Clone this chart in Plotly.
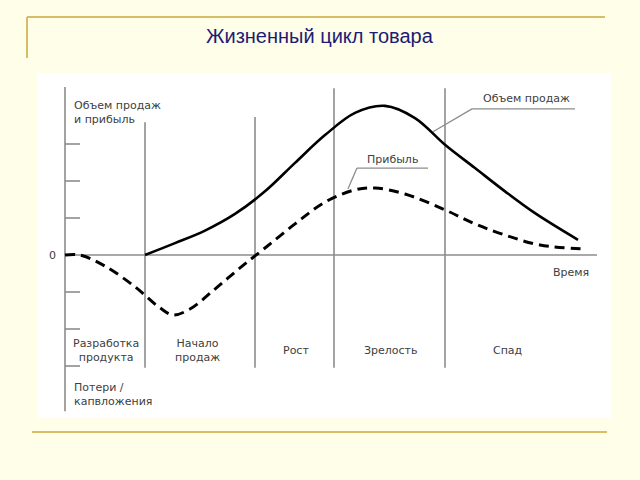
import plotly.graph_objects as go

# ---- data (time units, value units) ----
SALES_T = [8, 11, 14, 17, 20, 23, 26, 29, 32, 35, 38, 41, 44, 47, 51.3]
SALES_V = [0, 3.2, 6.6, 11.1, 17.2, 24.9, 32.4, 38.4, 40.3, 37.0, 29.8, 23.5, 17.2, 11.3, 4.1]

PROFIT_T = [0, 1.5, 4, 7, 9.5, 10.8, 12.5, 15, 17.5, 20, 23, 26, 29, 31, 34, 38, 41, 44, 47.5, 52]
PROFIT_V = [0, 0, -3.0, -8.6, -14.3, -16.2, -14.6, -9.2, -3.5, 1.9, 8.4, 14.3, 17.6, 18.1, 16.5, 12.2, 8.4, 5.4, 2.7, 1.6]

PHASE_BOUNDS = [8, 19, 26.9, 38]
PHASE_TOPS = [35.9, 37.3, 45.1, 45.1]
PHASE_BOTTOM = -30.5
PHASE_LABELS = ["Разработка<br>продукта", "Начало<br>продаж", "Рост", "Зрелость", "Спад"]
PHASE_CENTERS = [4.1, 13.2, 23.1, 32.6, 44.3]
TICKS_V = [30, 20, 10, -10, -20, -30]
TIME_END = 53.2

TITLE = "Жизненный цикл товара"
Y_LABEL = "Объем продаж<br>и прибыль"
LOSS_LABEL = "Потери /<br>капвложения"
X_LABEL = "Время"
SALES_LABEL = "Объем продаж"
PROFIT_LABEL = "Прибыль"

GRAY = "#8c8c8c"
TXT = "#404040"
GOLD = "#D8BD66"
FONT = "DejaVu Sans"

fig = go.Figure()

fig.add_trace(go.Scatter(x=SALES_T, y=SALES_V, mode="lines",
                         line=dict(color="black", width=2.6, shape="spline", smoothing=1.0),
                         hoverinfo="skip", showlegend=False))
fig.add_trace(go.Scatter(x=PROFIT_T, y=PROFIT_V, mode="lines",
                         line=dict(color="black", width=3, dash="10px,6px", shape="spline", smoothing=1.0),
                         hoverinfo="skip", showlegend=False))

shapes = []
# page decoration
shapes.append(dict(type="rect", xref="paper", yref="paper", x0=37/640, x1=611/640,
                   y0=1-418/480, y1=1-73/480, fillcolor="white", line=dict(width=0), layer="below"))
shapes.append(dict(type="line", xref="paper", yref="paper", x0=27/640, x1=605/640,
                   y0=1-17/480, y1=1-17/480, line=dict(color=GOLD, width=2)))
shapes.append(dict(type="line", xref="paper", yref="paper", x0=27/640, x1=27/640,
                   y0=1-17/480, y1=1-58/480, line=dict(color=GOLD, width=2)))
shapes.append(dict(type="line", xref="paper", yref="paper", x0=32/640, x1=607/640,
                   y0=1-432/480, y1=1-432/480, line=dict(color=GOLD, width=2)))
# axes
shapes.append(dict(type="line", x0=0, x1=0, y0=45.4, y1=-42.2, line=dict(color=GRAY, width=1.6), layer="below"))
shapes.append(dict(type="line", x0=0, x1=TIME_END, y0=0, y1=0, line=dict(color=GRAY, width=1.6), layer="below"))
for v in TICKS_V:
    shapes.append(dict(type="line", x0=0, x1=1.5, y0=v, y1=v, line=dict(color=GRAY, width=1.6), layer="below"))
for b, top in zip(PHASE_BOUNDS, PHASE_TOPS):
    shapes.append(dict(type="line", x0=b, x1=b, y0=top, y1=PHASE_BOTTOM, line=dict(color=GRAY, width=1.6), layer="below"))
# leader lines
shapes.append(dict(type="line", x0=40.7, x1=51, y0=39.5, y1=39.5, line=dict(color=GRAY, width=1.3)))
shapes.append(dict(type="line", x0=40.7, x1=36.8, y0=39.5, y1=33.3, line=dict(color=GRAY, width=1.3)))
shapes.append(dict(type="line", x0=29.2, x1=36.3, y0=23.5, y1=23.5, line=dict(color=GRAY, width=1.3)))
shapes.append(dict(type="line", x0=29.2, x1=28.3, y0=23.5, y1=17.9, line=dict(color=GRAY, width=1.3)))

ann = []
def txt(x, y, s, xanchor="center", size=11, xref="x", yref="y", color=TXT, align="center", family=FONT):
    ann.append(dict(x=x, y=y, xref=xref, yref=yref, text=s, showarrow=False,
                    xanchor=xanchor, yanchor="middle", align=align,
                    font=dict(family=family, size=size, color=color)))

txt(0.5, 1-36/480, TITLE, xref="paper", yref="paper", size=20, color="#1c1c74", family="Liberation Sans")
txt(0.7, 38.5, Y_LABEL, xanchor="left", align="left")
txt(0.7, -37.8, LOSS_LABEL, xanchor="left", align="left")
txt(-1.3, 0, "0")
txt(50.6, -4.6, X_LABEL)
txt(46.1, 42.2, SALES_LABEL)
txt(32.7, 25.7, PROFIT_LABEL)
for c, lab in zip(PHASE_CENTERS, PHASE_LABELS):
    txt(c, -25.7, lab)

fig.update_layout(
    width=640, height=480,
    margin=dict(l=0, r=0, t=0, b=0),
    paper_bgcolor="#FFFEE8", plot_bgcolor="rgba(0,0,0,0)",
    xaxis=dict(range=[-6.5, 57.5], visible=False, fixedrange=True),
    yaxis=dict(range=[-60.81, 68.92], visible=False, fixedrange=True),
    shapes=shapes, annotations=ann,
)

fig.write_html("out.html", config={"displayModeBar": False})
